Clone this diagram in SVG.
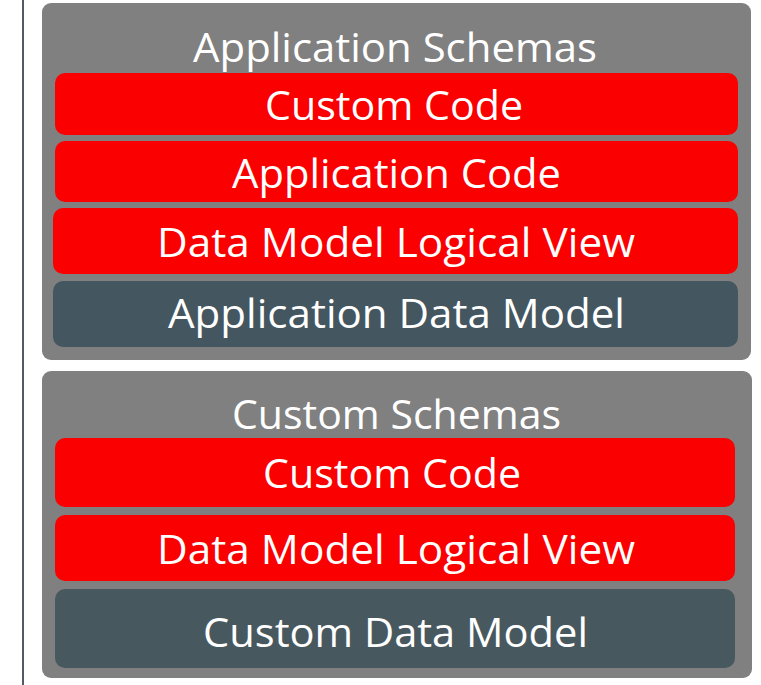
<svg xmlns="http://www.w3.org/2000/svg" width="761" height="685" viewBox="0 0 761 685">
<style>
.outer{fill:#808080}
.red{fill:#fa0000}
.dark{fill:#44565f}
.t{font-family:"Open Sans","Liberation Sans",sans-serif;font-size:41px;fill:#ffffff;text-anchor:middle}
</style>
<rect width="761" height="685" fill="#ffffff"/>
<line x1="23" y1="0" x2="23" y2="685" stroke="#4f5b66" stroke-width="2"/>
<g id="application-schemas">
<rect class="outer" x="42" y="3" width="709" height="357" rx="9"/>
<text class="t" x="395" y="62" textLength="404" lengthAdjust="spacingAndGlyphs">Application Schemas</text>
</g>
<g id="app-custom-code">
<rect class="red" x="55" y="73" width="683" height="62" rx="10"/>
<text class="t" x="394" y="120" textLength="258" lengthAdjust="spacingAndGlyphs">Custom Code</text>
</g>
<g id="app-application-code">
<rect class="red" x="55" y="141" width="683" height="61" rx="10"/>
<text class="t" x="396.5" y="188" textLength="329" lengthAdjust="spacingAndGlyphs">Application Code</text>
</g>
<g id="app-data-model-logical-view">
<rect class="red" x="53" y="208" width="685" height="66" rx="10"/>
<text class="t" x="396" y="257" textLength="478" lengthAdjust="spacingAndGlyphs">Data Model Logical View</text>
</g>
<g id="app-application-data-model">
<rect class="dark" x="53" y="281" width="685" height="66" rx="10"/>
<text class="t" x="396.5" y="328" textLength="457" lengthAdjust="spacingAndGlyphs">Application Data Model</text>
</g>
<g id="custom-schemas">
<rect class="outer" x="42" y="371" width="710" height="307" rx="9"/>
<text class="t" x="396.5" y="429" textLength="329" lengthAdjust="spacingAndGlyphs">Custom Schemas</text>
</g>
<g id="cust-custom-code">
<rect class="red" x="55" y="438" width="680" height="69" rx="10"/>
<text class="t" x="392" y="488" textLength="258" lengthAdjust="spacingAndGlyphs">Custom Code</text>
</g>
<g id="cust-data-model-logical-view">
<rect class="red" x="55" y="515" width="680" height="66" rx="10"/>
<text class="t" x="396" y="564" textLength="478" lengthAdjust="spacingAndGlyphs">Data Model Logical View</text>
</g>
<g id="cust-custom-data-model">
<rect class="dark" x="55" y="589" width="680" height="79" rx="10" style="fill:#48585f"/>
<text class="t" x="395.5" y="647" textLength="385" lengthAdjust="spacingAndGlyphs">Custom Data Model</text>
</g>
<g id="connectors"/>
</svg>
